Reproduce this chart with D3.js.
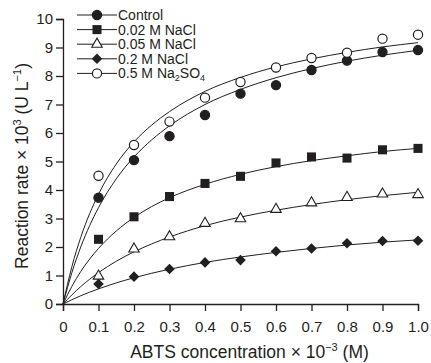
<!DOCTYPE html>
<html>
<head>
<meta charset="utf-8">
<script src="https://cdn.jsdelivr.net/npm/d3@7"></script>
<style>
  body { margin: 0; background: #fff; }
  text { font-family: "Liberation Sans", Arial, sans-serif; fill: #231f20; }
</style>
</head>
<body>
<div id="my_dataviz"></div>
<script>

// measured points
var conc = [0.1, 0.2, 0.3, 0.4, 0.5, 0.6, 0.7, 0.8, 0.9, 1.0];
var control = [3.73, 5.05, 5.89, 6.63, 7.38, 7.68, 8.21, 8.54, 8.84, 8.91];
var nacl002 = [2.27, 3.06, 3.77, 4.23, 4.48, 4.95, 5.16, 5.12, 5.41, 5.46];
var nacl005 = [0.98, 1.93, 2.36, 2.83, 2.99, 3.32, 3.55, 3.74, 3.86, 3.84];
var nacl02 = [0.70, 0.96, 1.23, 1.46, 1.54, 1.85, 1.95, 2.13, 2.21, 2.22];
var na2so4 = [4.50, 5.58, 6.40, 7.24, 7.79, 8.30, 8.63, 8.82, 9.31, 9.45];

// fitted curves
var fitX = [0, 0.025, 0.05, 0.1, 0.15, 0.2, 0.25, 0.3, 0.4, 0.5, 0.6, 0.7, 0.8, 0.9, 1.0];
var fitControl = [0, 1.10, 2.00, 3.38, 4.39, 5.16, 5.76, 6.25, 7.00, 7.53, 7.94, 8.26, 8.52, 8.73, 8.90];
var fitNa2so4 = [0, 1.31, 2.34, 3.85, 4.91, 5.69, 6.28, 6.75, 7.46, 7.95, 8.32, 8.60, 8.83, 9.02, 9.17];
var fit002 = [0, 0.62, 1.14, 1.95, 2.56, 3.04, 3.42, 3.73, 4.20, 4.55, 4.82, 5.03, 5.20, 5.35, 5.46];
var fit005 = [0, 0.32, 0.61, 1.10, 1.50, 1.83, 2.11, 2.35, 2.75, 3.05, 3.29, 3.49, 3.66, 3.80, 3.92];
var fit02 = [0, 0.15, 0.29, 0.53, 0.74, 0.92, 1.08, 1.22, 1.46, 1.65, 1.81, 1.95, 2.07, 2.17, 2.25];

var xTicks = [0, 0.1, 0.2, 0.3, 0.4, 0.5, 0.6, 0.7, 0.8, 0.9, 1.0];
var yTicks = [0, 1, 2, 3, 4, 5, 6, 7, 8, 9, 10];

var ink = "#231f20";

var series = [
  {name: "Control", pts: control, fit: fitControl, shape: "circle", fill: ink},
  {name: "0.02 M NaCl", pts: nacl002, fit: fit002, shape: "square", fill: ink},
  {name: "0.05 M NaCl", pts: nacl005, fit: fit005, shape: "triangle", fill: "#fff"},
  {name: "0.2 M NaCl", pts: nacl02, fit: fit02, shape: "diamond", fill: ink},
  {name: "0.5 M Na2SO4", pts: na2so4, fit: fitNa2so4, shape: "circle", fill: "#fff"}
];

var margin = {top: 19, right: 13, bottom: 59, left: 63},
    width = 431 - margin.left - margin.right,
    height = 363 - margin.top - margin.bottom;

var svg = d3.select("#my_dataviz")
  .append("svg")
    .attr("width", 431)
    .attr("height", 363)
  .append("g")
    .attr("transform", "translate(" + margin.left + "," + margin.top + ")");

var x = d3.scaleLinear().domain([0, 1]).range([0, width]);
var y = d3.scaleLinear().domain([0, 10]).range([height, 0]);

// axes
var xAxis = svg.append("g")
  .attr("transform", "translate(0," + height + ")")
  .call(d3.axisBottom(x).tickValues(xTicks).tickSize(7).tickPadding(10)
    .tickFormat(function(d) { return d === 0 ? "0" : d3.format(".1f")(d); }));

var yAxis = svg.append("g")
  .call(d3.axisLeft(y).tickValues(yTicks).tickSize(7).tickPadding(3).tickFormat(d3.format("d")));

[xAxis, yAxis].forEach(function(a) {
  a.select(".domain").attr("stroke", ink).attr("stroke-width", 1.3);
  a.selectAll(".tick line").attr("stroke", ink).attr("stroke-width", 1.3);
  a.selectAll(".tick text").attr("fill", ink).style("font-size", "15px")
    .style("font-family", "'Liberation Sans', Arial, sans-serif");
});

// axis titles
var xt = svg.append("text")
  .attr("x", 249.5 - margin.left)
  .attr("y", 358 - margin.top)
  .attr("text-anchor", "middle")
  .style("font-size", "17.5px");
xt.append("tspan").text("ABTS concentration \u00d7 10");
xt.append("tspan").attr("dy", -7).style("font-size", "11px").text("\u22123");
xt.append("tspan").attr("dy", 7).text(" (M)");

var yt = svg.append("text")
  .attr("transform", "translate(" + (28 - margin.left) + "," + (166 - margin.top) + ") rotate(-90)")
  .attr("text-anchor", "middle")
  .style("font-size", "17.5px");
yt.append("tspan").text("Reaction rate \u00d7 10");
yt.append("tspan").attr("dy", -7).style("font-size", "11px").text("3");
yt.append("tspan").attr("dy", 7).text(" (U L");
yt.append("tspan").attr("dy", -7).style("font-size", "11px").text("\u22121");
yt.append("tspan").attr("dy", 7).text(")");

// marker drawing
function marker(g, shape, fill) {
  if (shape === "circle") {
    g.append("circle").attr("r", 4.6)
      .attr("fill", fill).attr("stroke", ink).attr("stroke-width", 1.2);
  } else if (shape === "square") {
    g.append("path").attr("d", d3.symbol().type(d3.symbolSquare).size(82)())
      .attr("fill", fill).attr("stroke", "none");
  } else if (shape === "triangle") {
    g.append("path").attr("d", d3.symbol().type(d3.symbolTriangle).size(48)())
      .attr("fill", fill).attr("stroke", ink).attr("stroke-width", 1.1);
  } else if (shape === "diamond") {
    g.append("path").attr("d", d3.symbol().type(d3.symbolSquare).size(56)())
      .attr("transform", "rotate(45)")
      .attr("fill", fill).attr("stroke", "none");
  }
}

var line = d3.line()
  .x(function(d) { return x(d[0]); })
  .y(function(d) { return y(d[1]); })
  .curve(d3.curveMonotoneX);

series.forEach(function(s) {
  svg.append("path")
    .datum(fitX.map(function(v, i) { return [v, s.fit[i]]; }))
    .attr("d", line)
    .attr("fill", "none")
    .attr("stroke", ink)
    .attr("stroke-width", 1);
});

series.forEach(function(s) {
  svg.append("g").selectAll("g")
    .data(conc.map(function(v, i) { return [v, s.pts[i]]; }))
    .enter()
    .append("g")
      .attr("transform", function(d) { return "translate(" + x(d[0]) + "," + y(d[1]) + ")"; })
      .each(function() { marker(d3.select(this), s.shape, s.fill); });
});

// legend
var legend = svg.append("g").attr("transform", "translate(" + (77 - margin.left) + "," + (15 - margin.top) + ")");
series.forEach(function(s, i) {
  var row = legend.append("g").attr("transform", "translate(0," + (i * 14.6) + ")");
  row.append("line").attr("x1", 0).attr("x2", 40).attr("y1", 0).attr("y2", 0)
    .attr("stroke", ink).attr("stroke-width", 1);
  var m = row.append("g").attr("transform", "translate(20,0)");
  marker(m, s.shape, s.fill);
  var t = row.append("text").attr("x", 41).attr("y", 5).style("font-size", "14px");
  if (s.name === "0.5 M Na2SO4") {
    t.append("tspan").text("0.5 M Na");
    t.append("tspan").attr("dy", 2.5).style("font-size", "9px").text("2");
    t.append("tspan").attr("dy", -2.5).text("SO");
    t.append("tspan").attr("dy", 2.5).style("font-size", "9px").text("4");
  } else {
    t.text(s.name);
  }
});

</script>
</body>
</html>
